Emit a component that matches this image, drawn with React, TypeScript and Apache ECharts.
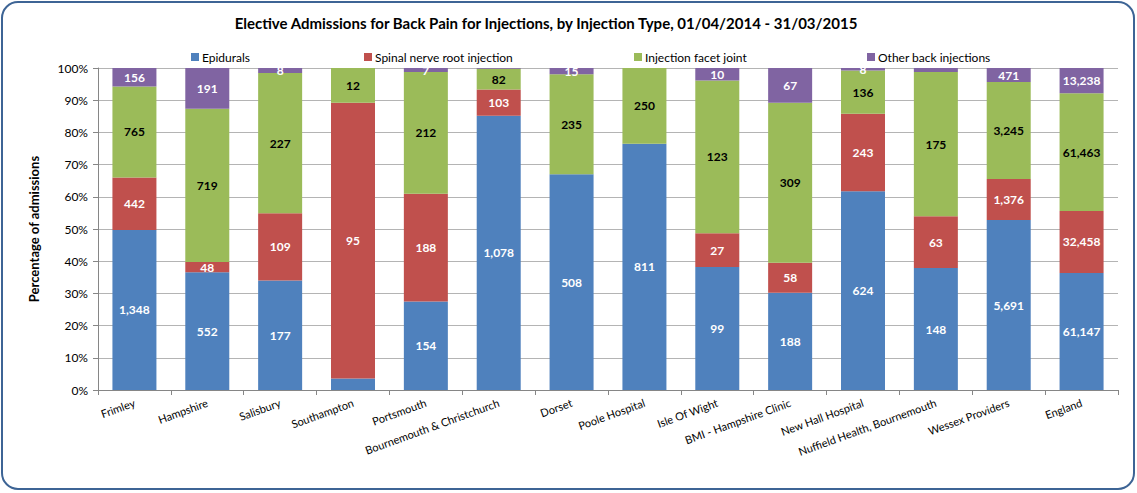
import React, { useEffect, useRef } from "react";
import * as echarts from "echarts";

const categories = [
  "Frimley",
  "Hampshire",
  "Salisbury",
  "Southampton",
  "Portsmouth",
  "Bournemouth & Christchurch",
  "Dorset",
  "Poole Hospital",
  "Isle Of Wight",
  "BMI - Hampshire Clinic",
  "New Hall Hospital",
  "Nuffield Health, Bournemouth",
  "Wessex Providers",
  "England",
];

// Admission counts (small suppressed values)
const epidurals = [1348, 552, 177, 4, 154, 1078, 508, 811, 99, 188, 624, 148, 5691, 61147];
const spinalNerveRoot = [442, 48, 109, 95, 188, 103, 0, 0, 27, 58, 243, 63, 1376, 32458];
const facetJoint = [765, 719, 227, 12, 212, 82, 235, 250, 123, 309, 136, 175, 3245, 61463];
const otherBack = [156, 191, 8, 0, 7, 3, 15, 0, 10, 67, 8, 5, 471, 13238];

const seriesNames = [
  "Epidurals",
  "Spinal nerve root injection",
  "Injection facet joint",
  "Other back injections",
];
const seriesColors = ["#4F81BD", "#C0504D", "#9BBB59", "#8064A2"];
const labelColors = ["#ffffff", "#ffffff", "#000000", "#ffffff"];
const yTicks = [0, 10, 20, 30, 40, 50, 60, 70, 80, 90, 100];

const FONT = "Lato, 'Open Sans', sans-serif";

export default function App() {
  const ref = useRef<HTMLDivElement>(null);

  useEffect(() => {
    if (!ref.current) return;
    const chart = echarts.init(ref.current, undefined, { renderer: "svg" });
    const all = [epidurals, spinalNerveRoot, facetJoint, otherBack];
    const totals = categories.map((_, i) => all.reduce((s, arr) => s + arr[i], 0));

    const legendLefts = [186, 359, 629, 862];

    const series = all.map((arr, si) => ({
      name: seriesNames[si],
      type: "bar",
      stack: "total",
      barWidth: 44,
      itemStyle: { color: seriesColors[si] },
      label: {
        show: true,
        position: "inside",
        color: labelColors[si],
        fontFamily: FONT,
        fontWeight: "bold",
        fontSize: 12,
        formatter: (p: any) => {
          const c = arr[p.dataIndex];
          return c > 5 ? c.toLocaleString("en-US") : "";
        },
      },
      data: arr.map((v, i) => (v / totals[i]) * 100),
    }));

    chart.setOption({
      animation: false,
      textStyle: { fontFamily: FONT },
      title: {
        text: "Elective Admissions for Back Pain for Injections, by Injection Type, 01/04/2014 - 31/03/2015",
        left: 541,
        textAlign: "center",
        top: 10,
        textStyle: { fontFamily: FONT, fontWeight: "bold", fontSize: 15, color: "#000" },
      },
      legend: seriesNames.map((n, i) => ({
        data: [n],
        left: legendLefts[i],
        top: 46,
        itemWidth: 8,
        itemHeight: 8,
        icon: "rect",
        itemGap: 4,
        textStyle: { fontFamily: FONT, fontSize: 12, color: "#000", padding: [0, 0, 0, -2] },
        selectedMode: false,
      })),
      grid: { left: 98, right: 19, top: 68, bottom: 103, containLabel: false },
      xAxis: {
        type: "category",
        data: categories,
        axisLine: { lineStyle: { color: "#868686" } },
        axisTick: { show: true, length: 5, lineStyle: { color: "#868686" } },
        axisLabel: {
          rotate: 20,
          interval: 0,
          margin: 12,
          fontSize: 11,
          color: "#000",
          fontFamily: FONT,
        },
      },
      yAxis: {
        type: "value",
        min: yTicks[0],
        max: yTicks[yTicks.length - 1],
        interval: 10,
        name: "Percentage of admissions",
        nameLocation: "middle",
        nameGap: 58,
        nameTextStyle: { fontFamily: FONT, fontWeight: "bold", fontSize: 13, color: "#000" },
        axisLine: { show: true, lineStyle: { color: "#868686" } },
        axisTick: { show: true, length: 5, lineStyle: { color: "#868686" } },
        splitLine: { lineStyle: { color: "#b4b4b4", width: 1 } },
        axisLabel: {
          formatter: "{value}%",
          fontSize: 12,
          color: "#000",
          margin: 10,
          fontFamily: FONT,
        },
      },
      graphic: [
        {
          type: "rect",
          shape: { x: 2, y: 2, width: 1132, height: 487, r: 16 },
          style: { fill: "none", stroke: "#3D6495", lineWidth: 2 },
          silent: true,
          z: 100,
        },
      ],
      series,
    });
    return () => chart.dispose();
  }, []);

  return (
    <div
      ref={ref}
      style={{ position: "fixed", left: 0, top: 0, width: 1137, height: 493, background: "#fff" }}
    />
  );
}
